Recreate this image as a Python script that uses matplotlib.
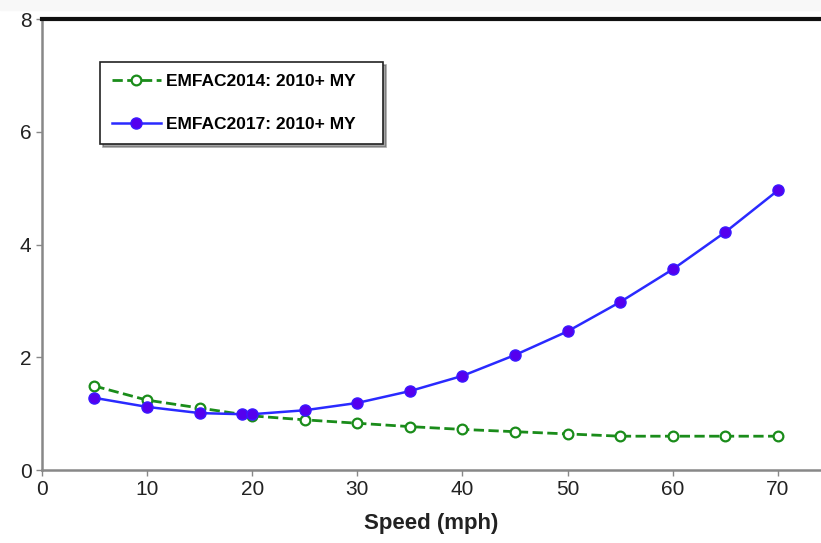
import matplotlib
matplotlib.use('Agg')
import matplotlib.pyplot as plt
import matplotlib.patches as mpatches

plt.rcParams['font.family'] = ['Liberation Sans', 'DejaVu Sans']

# data
speed_2014 = [5, 10, 15, 20, 25, 30, 35, 40, 45, 50, 55, 60, 65, 70]
rate_2014 = [1.49, 1.24, 1.10, 0.96, 0.89, 0.83, 0.77, 0.72, 0.68, 0.64, 0.60, 0.60, 0.60, 0.60]
speed_2017 = [5, 10, 15, 19, 20, 25, 30, 35, 40, 45, 50, 55, 60, 65, 70]
rate_2017 = [1.28, 1.12, 1.01, 0.99, 0.99, 1.06, 1.19, 1.40, 1.67, 2.04, 2.46, 2.98, 3.56, 4.22, 4.96]
x_ticks = [0, 10, 20, 30, 40, 50, 60, 70]
y_ticks = [0, 2, 4, 6, 8]

fig = plt.figure(figsize=(8.21, 5.43), dpi=100)
fig.patches.append(mpatches.Rectangle((0, 0.982), 1, 0.018, transform=fig.transFigure,
                                      color='#f8f8f8', zorder=0))
ax = fig.add_axes([0.051, 0.1344, 0.949, 0.8306])

ax.plot(speed_2014, rate_2014, color='#1a8c1a', linestyle='--', linewidth=2,
        marker='o', markersize=7, markerfacecolor='white', markeredgewidth=1.6,
        label='EMFAC2014: 2010+ MY', zorder=3)
ax.plot(speed_2017, rate_2017, color='#2a2aff', linestyle='-', linewidth=1.8,
        marker='o', markersize=8, markerfacecolor='#5500ee', markeredgecolor='#3a1aff',
        label='EMFAC2017: 2010+ MY', zorder=4)

ax.set_xlim(0, 74.1)
ax.set_ylim(0, 8)
ax.set_xticks(x_ticks)
ax.set_yticks(y_ticks)
ax.tick_params(labelsize=15, colors='#888888', labelcolor='#222222', length=4, width=1)

for s in ['left', 'bottom']:
    ax.spines[s].set_color('#888888')
    ax.spines[s].set_linewidth(1.8)
ax.spines['right'].set_visible(False)
ax.spines['top'].set_color('#111111')
ax.spines['top'].set_linewidth(3)

ax.set_xlabel('Speed (mph)', fontsize=16, fontweight='bold', color='#222222', labelpad=10)

# mode='expand' widens the frame to the anchor box, giving the extra right padding
leg = ax.legend(loc='upper left', bbox_to_anchor=(0.0746, 0.9047, 0.363, 0.0), mode='expand',
                prop={'weight': 'bold', 'size': 12.5}, frameon=True, fancybox=False,
                shadow=True, edgecolor='#222222', borderpad=0.7, labelspacing=1.6,
                handlelength=2.8, handletextpad=0.3, borderaxespad=0)
leg.get_frame().set_linewidth(1.2)

fig.savefig('out.png', dpi=100)
